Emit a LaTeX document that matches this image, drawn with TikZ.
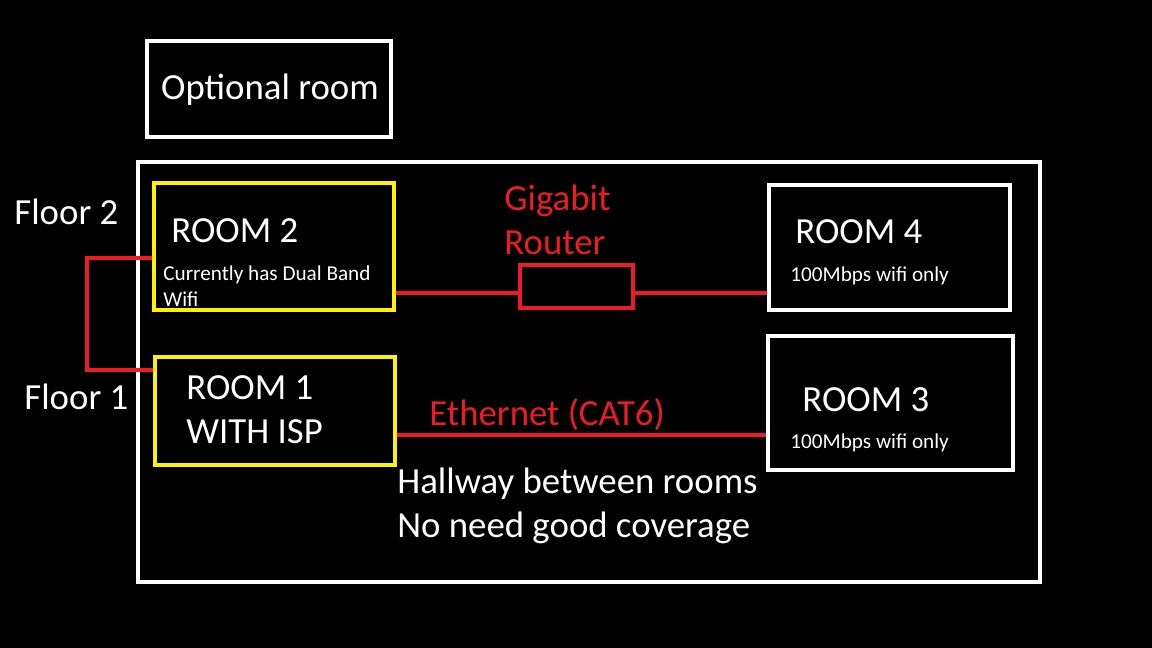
\documentclass[tikz,border=0pt]{standalone}
\usepackage{fontspec}
\setmainfont{Carlito}
\definecolor{wallyellow}{RGB}{255,242,0}
\definecolor{cablered}{RGB}{237,28,36}
\begin{document}
\begin{tikzpicture}[x=0.5pt, y=-0.5pt,
	box/.style={draw=white, line width=2pt, inner sep=0pt},
	ybox/.style={draw=wallyellow, line width=2pt, inner sep=0pt},
	wire/.style={draw=cablered, line width=2pt},
	big/.style={text=white, inner sep=0pt, font=\fontsize{18.4}{22}\selectfont, align=left},
	small/.style={text=white, inner sep=0pt, font=\fontsize{10.6}{13}\selectfont, align=left}]
	\fill[black] (0,0) rectangle (1152,648);
	\node[box, minimum width=122pt, minimum height=48pt](optional) at (269,89){};
	\node[box, minimum width=451pt, minimum height=210pt](house) at (589,372){};
	\node[ybox, minimum width=120pt, minimum height=63.5pt](room2) at (274,246.5){};
	\node[ybox, minimum width=120pt, minimum height=54pt](room1) at (275,411){};
	\node[box, minimum width=120.5pt, minimum height=62.5pt](room4) at (889.5,247.5){};
	\node[box, minimum width=122.5pt, minimum height=67pt](room3) at (890.5,403){};
	\node[draw=cablered, line width=2pt, minimum width=56.5pt, minimum height=21.5pt](router) at (576.5,286.5){};
	\node[big](optionaltext) at (270,90){Optional room};
	\node[big, anchor=west](floor2) at (14,212){Floor 2};
	\node[big, anchor=west](floor1) at (24,397){Floor 1};
	\node[big, anchor=west](room2title) at (171,231){ROOM 2};
	\node[small, anchor=west](room2text) at (163,286){Currently has Dual Band\\Wifi};
	\node[big, anchor=west](room1title) at (186,410){ROOM 1\\WITH ISP};
	\node[big, anchor=west, text=cablered](routertext) at (504,220){Gigabit\\Router};
	\node[big, anchor=west](room4title) at (795,232){ROOM 4};
	\node[small, anchor=west](room4text) at (790,276){100Mbps wifi only};
	\node[big, anchor=west](room3title) at (802,400){ROOM 3};
	\node[small, anchor=west](room3text) at (790,443){100Mbps wifi only};
	\node[big, anchor=west, text=cablered](ethtext) at (429,415){Ethernet (CAT6)};
	\node[big, anchor=west](hallway) at (397,506){Hallway between rooms\\No need good coverage};
	\draw [wire] ([yshift=-3pt]router.west) -- ([yshift=-3pt]router.west -| room2.east);
	\draw [wire] ([yshift=-3pt]router.east) -- ([yshift=-3pt]router.east -| room4.west);
	\draw [wire] ([yshift=-12pt]room1.east) -- ([yshift=-12pt]room1.east -| room3.west);
	\draw [wire] ([yshift=-5.75pt]room2.west) -| (87,314) |- ([yshift=20.5pt]room1.west);
\end{tikzpicture}
\end{document}
